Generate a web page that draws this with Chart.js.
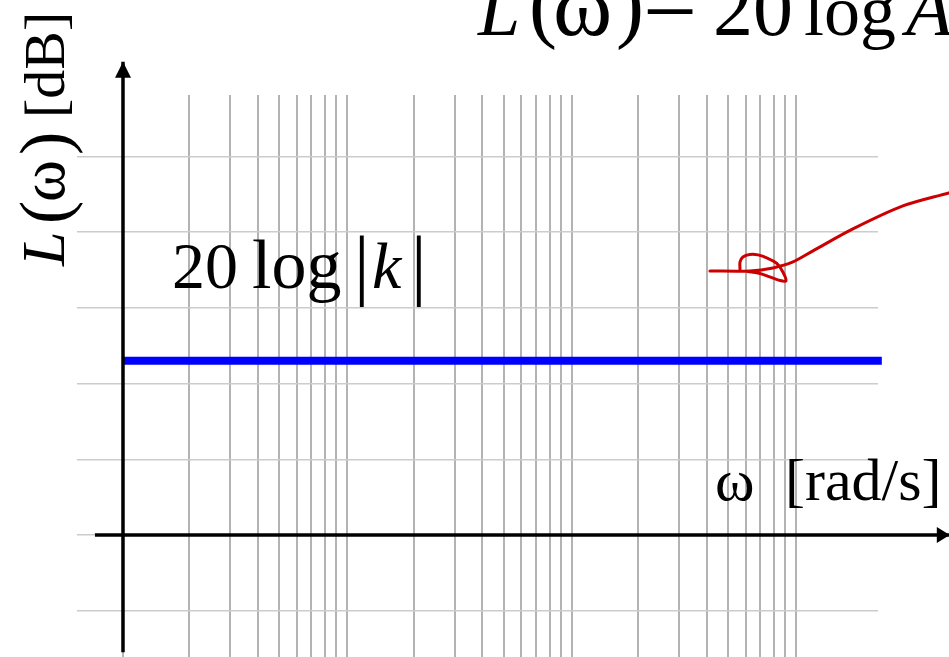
<!DOCTYPE html>
<html>
<head>
<meta charset="utf-8">
<script src="https://cdn.jsdelivr.net/npm/chart.js@4"></script>
<style>
  html, body { margin: 0; padding: 0; background: #fff; }
  #wrap { width: 949px; height: 657px; position: relative; }
</style>
</head>
<body>
<div id="wrap"><canvas id="bode"></canvas></div>
<script>
// x: decades of ω (0 = start of first decade), y: gain in dB
const xRange = [-0.5, 3.07];
const yRange = [-16.1, 58.1];

// log paper: three decades, each with the same set of minor lines
const decades = [0, 1, 2];
const minorOffsets = [0, 0.183, 0.307, 0.401, 0.481, 0.544, 0.606, 0.655, 0.704];
const dbGrid = [-10, 0, 10, 20, 30, 40, 50];

// constant term 20 log|k|
const kGainDb = 23;
const kLineX = [-0.295, 3.087];

// axes, the last point is the arrow tip
const yAxisX = -0.295;
const yAxisDb = [-15.46, 62.5];
const xAxisX = [-0.42, 3.39];

// red pen stroke pointing at the label
const strokeX = [3.386, 3.181, 2.958, 2.780, 2.691, 2.602, 2.499, 2.321];
const strokeY = [45.18, 43.46, 40.42, 37.52, 36.06, 35.27, 34.87, 34.87];
const loopX = [2.455, 2.455, 2.468, 2.499, 2.535, 2.579, 2.619, 2.646, 2.660, 2.624, 2.588, 2.544, 2.490];
const loopY = [35.01, 36.06, 36.72, 37.05, 36.99, 36.53, 35.87, 34.74, 33.55, 33.69, 34.08, 34.54, 34.81];

const gridX = [yAxisX].concat(decades.flatMap(d => minorOffsets.map(o => d + o)));
const pts = (xs, ys) => xs.map((x, i) => ({ x: x, y: ys[i] }));

const SERIF = '"Liberation Serif", "Times New Roman", serif';

// text pieces: x position, size, italic, baseline shift
const titlePieces = [
  { t: 'L', x: 478, s: 76, it: true },
  { t: '(', x: 529, s: 84, dy: -3 },
  { t: 'ω', x: 553, s: 90 },
  { t: ')', x: 616, s: 84, dy: -3 },
  { t: '=', x: 643, s: 96, dy: -1 },
  { t: '20', x: 713, s: 80 },
  { t: 'log', x: 804, s: 72 },
  { t: 'A', x: 906, s: 76, it: true }
];
const yTitlePieces = [
  { t: 'L', x: 4, s: 62, it: true },
  { t: '(', x: 46, s: 70, dy: 4 },
  { t: 'ω', x: 68, s: 64 },
  { t: ')', x: 115, s: 70, dy: 4 },
  { t: '[dB]', x: 152, s: 58 }
];
const kPieces = [
  { t: '20', x: 172, s: 66 },
  { t: 'log', x: 252, s: 70 },
  { t: '|', x: 354, s: 78, dy: 2 },
  { t: 'k', x: 372, s: 66, it: true },
  { t: '|', x: 411, s: 78, dy: 2 }
];
const wPieces = [
  { t: 'ω', x: 715, s: 60 },
  { t: '[rad/s]', x: 785, s: 60 }
];

function drawPieces(ctx, pieces, baseline) {
  pieces.forEach(p => {
    ctx.font = (p.it ? 'italic ' : '') + p.s + 'px ' + SERIF;
    ctx.fillText(p.t, p.x, baseline + (p.dy || 0));
  });
}

// filled arrowhead at the last point of a dataset, pointing along its last segment
function arrowHead(ctx, meta, len, half) {
  const pts = meta.data;
  const tip = pts[pts.length - 1], prev = pts[pts.length - 2];
  const a = Math.atan2(tip.y - prev.y, tip.x - prev.x);
  ctx.save();
  ctx.translate(tip.x, tip.y);
  ctx.rotate(a);
  ctx.beginPath();
  ctx.moveTo(0, 0);
  ctx.lineTo(-len, -half);
  ctx.lineTo(-len, half);
  ctx.closePath();
  ctx.fill();
  ctx.restore();
}

const labelsPlugin = {
  id: 'labels',
  afterDraw(chart) {
    const ctx = chart.ctx;
    ctx.save();
    ctx.fillStyle = '#000';
    arrowHead(ctx, chart.getDatasetMeta(2), 16, 8);
    arrowHead(ctx, chart.getDatasetMeta(3), 13, 8);
    ctx.textAlign = 'left';
    ctx.textBaseline = 'alphabetic';
    drawPieces(ctx, titlePieces, 35);
    drawPieces(ctx, kPieces, 288);
    drawPieces(ctx, wPieces, 500);
    // vertical axis title, reads bottom to top
    ctx.translate(64, 270);
    ctx.rotate(-Math.PI / 2);
    drawPieces(ctx, yTitlePieces, 0);
    ctx.restore();
  }
};

const ctx = document.getElementById('bode').getContext('2d');
const bode = new Chart(ctx, {
  type: 'scatter',
  data: {
    datasets: [
      {
        // hand-drawn arrow
        data: pts(strokeX, strokeY),
        showLine: true,
        borderColor: '#cc0000',
        borderWidth: 3,
        tension: 0.3,
        pointRadius: 0,
        borderCapStyle: 'round',
        borderJoinStyle: 'round',
        clip: false
      },
      {
        data: pts(loopX, loopY),
        showLine: true,
        borderColor: '#cc0000',
        borderWidth: 3,
        tension: 0.3,
        pointRadius: 0,
        borderCapStyle: 'round',
        borderJoinStyle: 'round',
        clip: false
      },
      {
        // L axis
        data: pts([yAxisX, yAxisX], yAxisDb),
        showLine: true,
        borderColor: '#000',
        borderWidth: 3.5,
        pointRadius: 0,
        clip: false
      },
      {
        // ω axis
        data: pts(xAxisX, [0, 0]),
        showLine: true,
        borderColor: '#000',
        borderWidth: 3.5,
        pointRadius: 0,
        clip: false
      },
      {
        // 20 log|k|
        data: pts(kLineX, [kGainDb, kGainDb]),
        showLine: true,
        borderColor: '#0000ff',
        borderWidth: 8,
        pointRadius: 0,
        clip: false
      }
    ]
  },
  options: {
    responsive: true,
    maintainAspectRatio: false,
    animation: false,
    events: [],
    layout: { autoPadding: false, padding: { left: 77, right: 71, top: 95, bottom: 0 } },
    plugins: { legend: { display: false }, tooltip: { enabled: false } },
    scales: {
      x: {
        type: 'linear',
        min: xRange[0],
        max: xRange[1],
        afterBuildTicks: s => { s.ticks = gridX.map(v => ({ value: v })); },
        afterFit: s => { s.height = 0; },
        ticks: { display: false },
        border: { display: false },
        grid: { color: '#b3b3b3', lineWidth: 2, drawTicks: false }
      },
      y: {
        type: 'linear',
        min: yRange[0],
        max: yRange[1],
        afterBuildTicks: s => { s.ticks = dbGrid.map(v => ({ value: v })); },
        afterFit: s => { s.width = 0; },
        ticks: { display: false },
        border: { display: false },
        grid: { color: '#cccccc', lineWidth: 1.5, drawTicks: false }
      }
    }
  },
  plugins: [labelsPlugin]
});
</script>
</body>
</html>
